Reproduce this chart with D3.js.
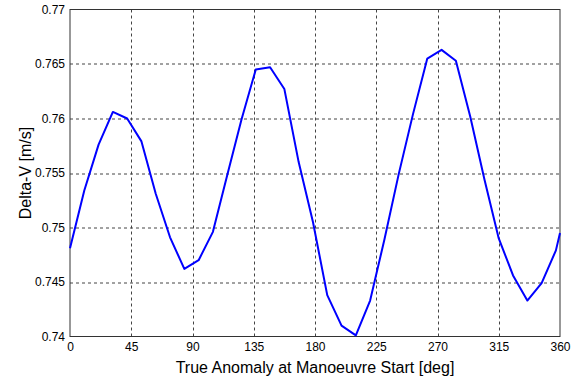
<!DOCTYPE html>
<html>
<head>
<meta charset="utf-8">
<script src="https://cdn.jsdelivr.net/npm/d3@7"></script>
<style>
  body { margin: 0; background: #fff; }
  svg text { font-family: "Liberation Sans", Arial, sans-serif; fill: #000; }
</style>
</head>
<body>
<div id="container"></div>
<script>
const anomaly = [0, 10.5, 21, 31.5, 42, 52.5, 63, 73.5, 84, 94.5, 105, 115.5, 126, 136.5, 147, 157.5, 168, 178.5,
  189, 199.5, 210, 220.5, 231, 241.5, 252, 262.5, 273, 283.5, 294, 304.5, 315, 325.5, 336, 346.5, 357, 360];
const deltaV = [0.7481, 0.7534, 0.7576, 0.7606, 0.7600, 0.7579, 0.7531, 0.7491, 0.7462, 0.7470, 0.7496, 0.7548,
  0.7599, 0.7645, 0.7647, 0.7627, 0.7560, 0.7505, 0.7438, 0.7410, 0.7401, 0.7433, 0.7489, 0.7549,
  0.7604, 0.7655, 0.7663, 0.7653, 0.7602, 0.7544, 0.7490, 0.7456, 0.7433, 0.7449, 0.7479, 0.7495];
const xTicks = [0, 45, 90, 135, 180, 225, 270, 315, 360];
const yTicks = [0.74, 0.745, 0.75, 0.755, 0.76, 0.765, 0.77];
const yTickLabels = ["0.74", "0.745", "0.75", "0.755", "0.76", "0.765", "0.77"];

const data = anomaly.map((a, i) => ({x: a, y: deltaV[i]}));

const margin = {top: 9.5, right: 20, bottom: 43.5, left: 70};
const width = 580 - margin.left - margin.right;
const height = 380 - margin.top - margin.bottom;

const svg = d3.select("#container")
  .append("svg")
  .attr("width", 580)
  .attr("height", 380)
  .append("g")
  .attr("transform", "translate(" + margin.left + "," + margin.top + ")");

const x = d3.scaleLinear().domain([0, 360]).range([0, width]);
const y = d3.scaleLinear().domain([0.74, 0.77]).range([height, 0]);

// grid
svg.append("g")
  .selectAll("line")
  .data(xTicks.slice(1, -1))
  .enter().append("line")
  .attr("x1", d => Math.round(x(d)) + 0.5).attr("x2", d => Math.round(x(d)) + 0.5)
  .attr("y1", 0).attr("y2", height)
  .attr("stroke", "#444").attr("stroke-dasharray", "3,3");

svg.append("g")
  .selectAll("line")
  .data(yTicks.slice(1, -1))
  .enter().append("line")
  .attr("y1", d => Math.round(y(d)) + 0.5).attr("y2", d => Math.round(y(d)) + 0.5)
  .attr("x1", 0).attr("x2", width)
  .attr("stroke", "#444").attr("stroke-dasharray", "3,3");

// axes
svg.append("g")
  .attr("transform", "translate(0," + height + ")")
  .call(d3.axisBottom(x).tickValues(xTicks).tickSize(0).tickPadding(6).tickFormat(d3.format("d")))
  .call(g => g.select(".domain").remove())
  .selectAll("text").style("font-size", "12px");

svg.append("g")
  .call(d3.axisLeft(y).tickValues(yTicks).tickSize(0).tickPadding(5).tickFormat((d, i) => yTickLabels[i]))
  .call(g => g.select(".domain").remove())
  .selectAll("text").style("font-size", "12px");

// frame
svg.append("rect")
  .attr("x", 0).attr("y", 0)
  .attr("width", width).attr("height", height)
  .attr("fill", "none").attr("stroke", "#333").attr("stroke-width", 1);

// line
svg.append("path")
  .datum(data)
  .attr("fill", "none")
  .attr("stroke", "#0000ff")
  .attr("stroke-width", 2)
  .attr("stroke-linejoin", "round")
  .attr("d", d3.line().x(d => x(d.x)).y(d => y(d.y)));

// labels
svg.append("text")
  .attr("x", width / 2).attr("y", height + 36)
  .attr("text-anchor", "middle")
  .style("font-size", "16px")
  .text("True Anomaly at Manoeuvre Start [deg]");

svg.append("text")
  .attr("transform", "translate(" + (-39) + "," + (height / 2) + ") rotate(-90)")
  .attr("text-anchor", "middle")
  .style("font-size", "16px")
  .text("Delta-V [m/s]");
</script>
</body>
</html>
